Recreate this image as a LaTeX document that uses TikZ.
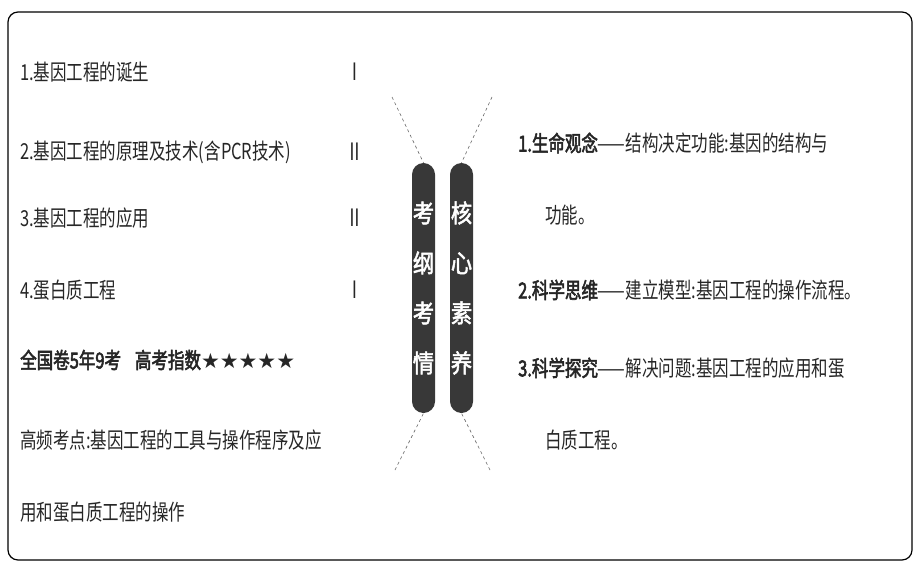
\documentclass[tikz,border=0pt]{standalone}
\usepackage{fontspec}
\setmainfont{Noto Sans CJK SC}
\newfontfamily\cjk{Noto Sans CJK SC}[FakeStretch=0.75]
\newfontfamily\cjkb{Noto Sans CJK SC}[FakeStretch=0.75,FakeBold=2.5]
\newfontfamily\pillf{Noto Sans CJK SC}[FakeStretch=0.85,FakeBold=2]
\newfontfamily\sym{DejaVu Sans}
\newfontfamily\rom{Noto Sans CJK SC}[FakeStretch=0.7]
\begin{document}
\begin{tikzpicture}[x=1pt,y=-1pt,
  t/.style={anchor=west,inner sep=0pt,font=\fontsize{22}{26}\cjk,text=black!85},
  rn/.style={anchor=center,inner sep=0pt,font=\fontsize{24}{26}\rom,text=black!85},
  pill/.style={draw=none,fill=black!78,rounded corners=11.5pt,minimum width=23pt,minimum height=250pt,inner sep=0pt,text=white,font=\fontsize{25}{50}\pillf,align=center},
  dl/.style={dashed,black!60,line width=0.6pt}]
\useasboundingbox (0,0) rectangle (920,575);
\draw[line width=1.2pt,rounded corners=10pt] (8,12) rectangle (912,560);
\node[t] (l1) at (20,72) {1.基因工程的诞生};
\node[t] (l2) at (20,152) {2.基因工程的原理及技术(含PCR技术)};
\node[t] (l3) at (20,218) {3.基因工程的应用};
\node[t] (l4) at (20,290) {4.蛋白质工程};
\node[rn] (r1) at (355,72) {Ⅰ};
\node[rn] (r2) at (355,152) {Ⅱ};
\node[rn] (r3) at (355,218) {Ⅱ};
\node[rn] (r4) at (355,290) {Ⅰ};
\node[t,font=\fontsize{22}{26}\cjkb] (b) at (20,360) {全国卷5年9考\hspace{14pt}高考指数{\sym\fontsize{21}{22}\selectfont ★★★★★}};
\node[t] (h1) at (20,440) {高频考点:基因工程的工具与操作程序及应};
\node[t] (h2) at (20,512) {用和蛋白质工程的操作};
\node[pill] (p1) at (423.5,288) {考\\纲\\考\\情};
\node[pill] (p2) at (461.5,288) {核\\心\\素\\养};
\coordinate (a1) at (392,97); \coordinate (a2) at (492,97);
\coordinate (a3) at (395,470); \coordinate (a4) at (490,470);
\draw[dl] (a1) -- (p1.north); \draw[dl] (a2) -- (p2.north);
\draw[dl] (a3) -- (p1.south); \draw[dl] (a4) -- (p2.south);
\node[t] (s1) at (518,143) {{\cjkb 1.生命观念}——结构决定功能:基因的结构与};
\node[t] (s1b) at (545,215) {功能。};
\node[t] (s2) at (518,290) {{\cjkb 2.科学思维}——建立模型:基因工程的操作流程。};
\node[t] (s3) at (518,368) {{\cjkb 3.科学探究}——解决问题:基因工程的应用和蛋};
\node[t] (s3b) at (545,440) {白质工程。};
\end{tikzpicture}
\end{document}
